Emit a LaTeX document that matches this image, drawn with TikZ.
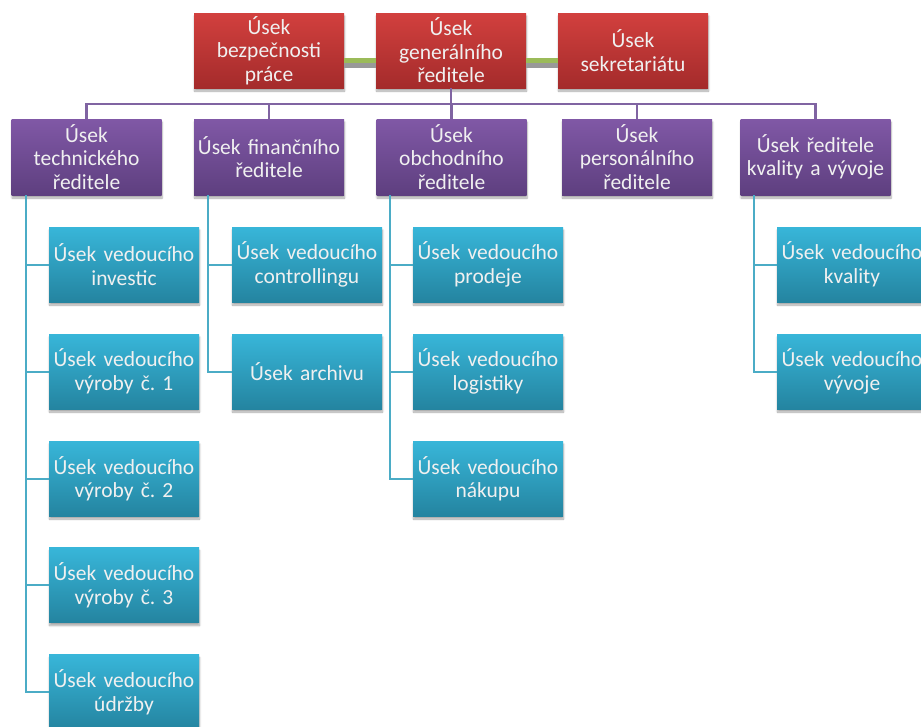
\documentclass[tikz,border=0pt]{standalone}
\usepackage{fontspec}
\setmainfont{Carlito}
\frenchspacing
\usetikzlibrary{shadows.blur}
\definecolor{redtop}{HTML}{D2403E}
\definecolor{redbot}{HTML}{A42B2B}
\definecolor{purtop}{HTML}{8058A6}
\definecolor{purbot}{HTML}{5E3F7F}
\definecolor{blutop}{HTML}{38B6D9}
\definecolor{blubot}{HTML}{2484A0}
\definecolor{purline}{HTML}{8064A2}
\definecolor{bluline}{HTML}{4BACC6}
\definecolor{grnline}{HTML}{9BBB59}
\definecolor{txt}{HTML}{F0F0F0}
\tikzset{
  boxbase/.style={rectangle, minimum width=150pt, text width=150pt, align=center,
    inner sep=0pt, text=txt, font=\frenchspacing\fontsize{21.5}{23.5}\selectfont,
    blur shadow={shadow xshift=0.5pt, shadow yshift=-3pt, shadow blur steps=6, shadow opacity=35}},
  redbox/.style={boxbase, minimum height=75pt, top color=redtop, bottom color=redbot},
  purbox/.style={boxbase, minimum height=76pt, top color=purtop, bottom color=purbot},
  blubox/.style={boxbase, minimum height=75pt, top color=blutop, bottom color=blubot},
  pline/.style={draw=purline, line width=2.6pt},
  bline/.style={draw=bluline, line width=2pt},
  gline/.style={draw=grnline, line width=4.5pt},
  gshadow/.style={draw=black!40, line width=5pt},
}
\begin{document}
\begin{tikzpicture}[x=1pt,y=-1pt]
\useasboundingbox (0,0) rectangle (921,726);
\clip (0,0) rectangle (921,726);

\coordinate (hubpos) at (451,104);

% red row
\node[redbox] (r1) at (269,50.5) {Úsek\\bezpečnosti\\práce};
\node[redbox] (r2) at (451,50.5) {Úsek\\generálního\\ředitele};
\node[redbox] (r3) at (633,50.5) {Úsek\\sekretariátu};

% purple row
\node[purbox] (t1) at (86.5,157) {Úsek\\technického\\ředitele};
\node[purbox] (t2) at (269,157) {Úsek finančního\\ředitele};
\node[purbox] (t3) at (451.5,157) {Úsek\\obchodního\\ředitele};
\node[purbox] (t4) at (637,157) {Úsek\\personálního\\ředitele};
\node[purbox] (t5) at (815.5,157) {Úsek ředitele\\kvality a vývoje};

% blue column 1
\node[blubox] (a1) at (124,264.5) {Úsek vedoucího\\investic};
\node[blubox] (a2) at (124,371.5) {Úsek vedoucího\\výroby č. 1};
\node[blubox] (a3) at (124,478.5) {Úsek vedoucího\\výroby č. 2};
\node[blubox] (a4) at (124,585) {Úsek vedoucího\\výroby č. 3};
\node[blubox] (a5) at (124,692) {Úsek vedoucího\\údržby};
% blue column 2
\node[blubox] (b1) at (307,264.5) {Úsek vedoucího\\controllingu};
\node[blubox] (b2) at (307,371.5) {Úsek archivu};
% blue column 3
\node[blubox] (c1) at (488,264.5) {Úsek vedoucího\\prodeje};
\node[blubox] (c2) at (488,371.5) {Úsek vedoucího\\logistiky};
\node[blubox] (c3) at (488,478.5) {Úsek vedoucího\\nákupu};
% blue column 4
\node[blubox] (d1) at (852,264.5) {Úsek vedoucího\\kvality};
\node[blubox] (d2) at (852,371.5) {Úsek vedoucího\\vývoje};

% green assistant connectors
\draw[gshadow] ([yshift=-14.5pt]r1.east) -- ([yshift=-14.5pt]r2.west);
\draw[gline] ([yshift=-10pt]r1.east) -- ([yshift=-10pt]r2.west);
\draw[gshadow] ([yshift=-14.5pt]r2.east) -- ([yshift=-14.5pt]r3.west);
\draw[gline] ([yshift=-10pt]r2.east) -- ([yshift=-10pt]r3.west);

% purple tree
\draw[pline] (r2.south) -- (r2.south |- hubpos) coordinate (hub);
\foreach \t in {t1,t2,t3,t4,t5} {\draw[pline] (hub) -| (\t.north);}

% blue trees
\foreach \c in {a1,a2,a3,a4,a5} {\draw[bline] ([xshift=15pt]t1.south west) |- (\c.west);}
\foreach \c in {b1,b2} {\draw[bline] ([xshift=14pt]t2.south west) |- (\c.west);}
\foreach \c in {c1,c2,c3} {\draw[bline] ([xshift=14pt]t3.south west) |- (\c.west);}
\foreach \c in {d1,d2} {\draw[bline] ([xshift=14pt]t5.south west) |- (\c.west);}
\end{tikzpicture}
\end{document}
